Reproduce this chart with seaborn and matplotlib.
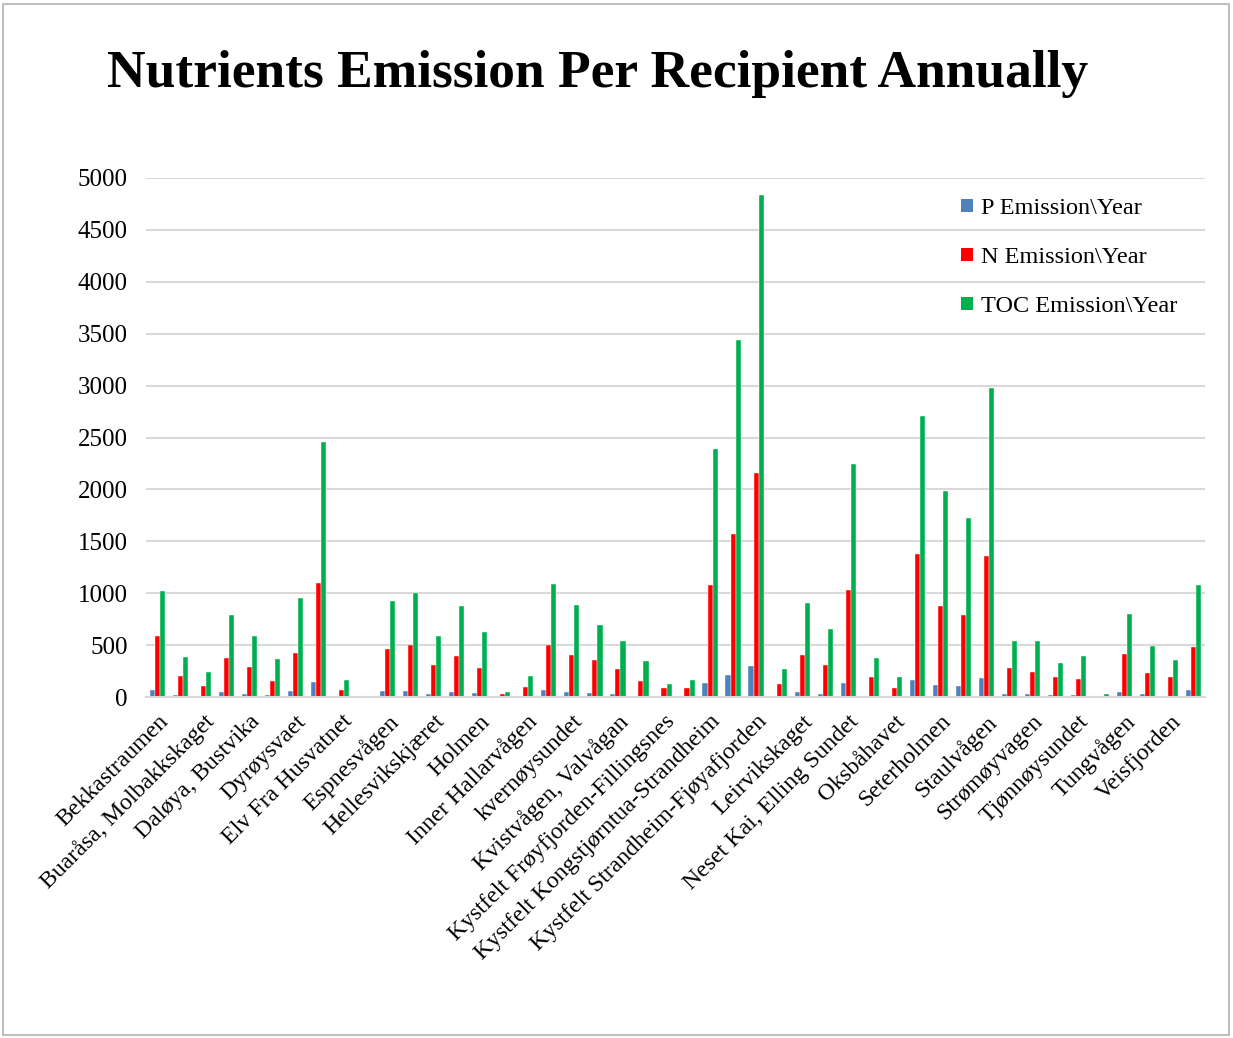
import numpy as np
import pandas as pd
import matplotlib
matplotlib.use("Agg")
import matplotlib.pyplot as plt
from matplotlib.patches import Rectangle
import seaborn as sns

# Visible tick labels (Excel shows every other category)
tick_labels = [
    "Bekkastraumen", "Buaråsa, Molbakkskaget", "Daløya, Bustvika", "Dyrøysvaet",
    "Elv Fra Husvatnet", "Espnesvågen", "Hellesvikskjæret", "Holmen",
    "Inner Hallarvågen", "kvernøysundet", "Kvistvågen, Valvågan",
    "Kystfelt Frøyfjorden-Fillingsnes", "Kystfelt Kongstjørntua-Strandheim",
    "Kystfelt Strandheim-Fjøyafjorden", "Leirvikskaget", "Neset Kai, Elling Sundet",
    "Oksbåhavet", "Seterholmen", "Staulvågen", "Strømøyvagen", "Tjønnøysundet",
    "Tungvågen", "Veisfjorden",
]

p_emission = [66, 23, 10, 46, 30, 16, 53, 148, 3, 2,
              53, 56, 33, 49, 36, 3, 7, 63, 49, 40,
              26, 13, 10, 3, 138, 214, 303, 10, 49, 33,
              132, 13, 3, 168, 119, 102, 184, 26, 26, 23,
              16, 2, 46, 26, 13, 63]
n_emission = [586, 200, 105, 375, 287, 158, 422, 1100, 72, 3,
              458, 497, 306, 392, 277, 33, 92, 497, 402, 352,
              273, 158, 89, 82, 1077, 1568, 2161, 128, 405, 313,
              1028, 188, 86, 1374, 876, 787, 1357, 283, 244, 194,
              171, 10, 412, 234, 188, 484]
toc_emission = [1024, 382, 240, 794, 583, 362, 955, 2457, 161, 6,
                925, 1001, 583, 876, 629, 49, 201, 1087, 883, 692,
                544, 349, 128, 161, 2388, 3442, 4832, 267, 906, 659,
                2240, 379, 188, 2704, 1983, 1723, 2978, 540, 540, 323,
                392, 33, 800, 488, 352, 1080]

series_names = ["P Emission\\Year", "N Emission\\Year", "TOC Emission\\Year"]
colors = ["#4F81BD", "#FF0000", "#00B050"]

n = len(p_emission)
idx = list(range(n))
df = pd.DataFrame({
    "idx": idx * 3,
    "value": p_emission + n_emission + toc_emission,
    "series": [series_names[0]] * n + [series_names[1]] * n + [series_names[2]] * n,
})

sns.set_theme(style="white")
plt.rcParams["font.family"] = ["Liberation Serif", "DejaVu Serif"]
plt.rcParams["text.color"] = "black"
plt.rcParams["xtick.color"] = "black"
plt.rcParams["ytick.color"] = "black"

W, H = 1233, 1038
fig = plt.figure(figsize=(W / 100, H / 100), dpi=100)
ax = fig.add_axes([146 / W, (H - 697) / H, (1205 - 146) / W, (697 - 178) / H])

sns.barplot(data=df, x="idx", y="value", hue="series", order=idx,
            hue_order=series_names, palette=colors, width=0.66, saturation=1,
            edgecolor="white", linewidth=0.3, ax=ax)

ax.set_ylim(0, 5000)
ax.set_xlim(-0.5, n - 0.5)
ax.set_yticks(range(0, 5001, 500))
ax.set_yticklabels([str(v) for v in range(0, 5001, 500)], fontsize=18)
ax.yaxis.grid(True, color="#D9D9D9", linewidth=1.5)
ax.set_axisbelow(True)
for s in ["top", "right", "left"]:
    ax.spines[s].set_visible(False)
ax.spines["bottom"].set_color("#D9D9D9")
ax.spines["bottom"].set_linewidth(1.5)
ax.tick_params(axis="y", length=0, pad=13)
ax.tick_params(axis="x", length=0, pad=10)
ax.set_xticks(idx[::2])
ax.set_xticklabels(tick_labels, rotation=45, ha="right", rotation_mode="anchor", fontsize=17.2)
ax.set_xlabel("")
ax.set_ylabel("")

handles, labels = ax.get_legend_handles_labels()
for h in handles:
    h.set_edgecolor("none")
ax.legend(handles, labels, loc="upper left", bbox_to_anchor=(949 / W, (H - 186) / H),
          bbox_transform=fig.transFigure, frameon=False, fontsize=17.5,
          handlelength=0.5, handleheight=0.5, handletextpad=0.3, labelspacing=1.15,
          borderpad=0)

fig.text(598 / W, (H - 74) / H, "Nutrients Emission Per Recipient Annually",
         ha="center", va="center", fontsize=38.5, fontweight="bold")

fig.patches.append(Rectangle((3 / W, 3 / H), 1226 / W, 1031 / H, transform=fig.transFigure,
                             fill=False, edgecolor="#BFBFBF", linewidth=1.5))

fig.savefig("out.png", dpi=100)
